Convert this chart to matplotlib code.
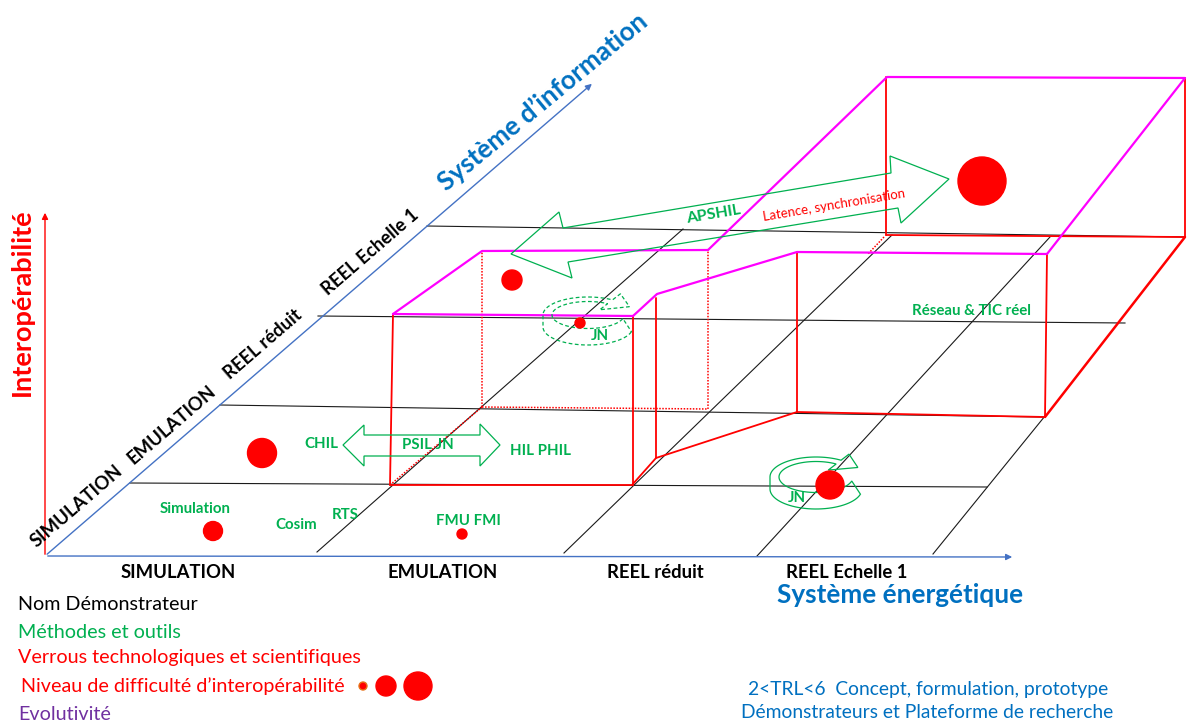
"""
Interoperability diagram: energy system x information system x interoperability.
Drawn in pixel coordinates on a single blank axes.
"""

import matplotlib

matplotlib.use("Agg")
import matplotlib.pyplot as plt
import numpy as np
from matplotlib.patches import Circle, Polygon

plt.rcParams["font.family"] = ["Lato", "DejaVu Sans"]

GREEN = "#00B050"
RED = "#FF0000"
MAGENTA = "#FF00FF"
BLUE = "#0070C0"
AXIS_BLUE = "#4472C4"
PURPLE = "#7030A0"

# demonstrator levels (both axes)
LEVELS = ["SIMULATION", "EMULATION", "REEL réduit", "REEL Echelle 1"]
LEVEL_X_POS = [178, 443, 655, 847]          # under the energy axis
LEVEL_DIAG_POS = [(77, 506), (172, 425), (263, 344), (370, 252)]

# floor grid: information-system levels (near-horizontal) and energy levels (diagonal)
INFO_LINES = [(130, 483, 987, 487), (220, 405, 1043, 417),
              (318, 316, 1125, 323), (427, 226, 1185, 237)]
ENERGY_LINES = [(317, 552, 683, 229), (564, 553, 892, 235),
                (757, 556, 1050, 237), (933, 554, 1045, 416)]

# interoperability volumes
RED_SOLID = [
    [(390, 485), (393, 314)], [(633, 485), (633, 316)], [(390, 485), (633, 485)],
    [(656, 298), (656, 458)], [(632, 485), (656, 458), (797, 412)],
    [(797, 252), (797, 412)], [(797, 412), (1045, 417)], [(1047, 254), (1045, 417)],
    [(886, 77), (886, 235)], [(886, 235), (1185, 237)], [(1185, 78), (1185, 237)],
]
RED_EDGE = [(1045, 417), (1185, 237)]
RED_DOTTED = [
    [(482, 407), (482, 251)], [(482, 407), (708, 409)], [(708, 409), (708, 250)],
    [(390, 485), (482, 407)], [(884, 237), (868, 254)],
]
MAGENTA_LINES = [
    [(393, 314), (633, 316)], [(393, 314), (482, 251), (708, 250)],
    [(633, 316), (657, 294), (797, 252), (1047, 254)],
    [(708, 250), (887, 77), (1185, 78), (1047, 254)],
]

# difficulty level bubbles
DOT_X = [982, 512, 580, 262, 213, 462, 830]
DOT_Y = [181, 280, 323, 453, 531, 534, 485]
DOT_R = [24, 10, 5, 14.5, 9.5, 5, 14]

# methods and tools
METHODS = ["Simulation", "Cosim", "RTS", "FMU FMI", "CHIL", "PSIL JN",
           "HIL PHIL", "Réseau & TIC réel", "JN", "JN"]
METHOD_X = [195, 296, 345, 468, 321, 428, 541, 972, 600, 797]
METHOD_Y = [509, 525, 515, 521, 444, 445, 451, 311, 336, 498]

CHIL_ARROW = [(343, 445), (364, 425), (364, 435), (480, 435), (480, 424), (500, 445),
              (480, 466), (480, 456), (364, 456), (364, 466)]
APSHIL_ARROW = [(511, 254), (559, 212), (563, 228), (891, 173), (890, 156), (949, 179),
                (901, 223), (898, 208), (568, 262), (572, 278)]

LEGEND = ["Nom Démonstrateur", "Méthodes et outils",
          "Verrous technologiques et scientifiques",
          "Niveau de difficulté d\u2019interopérabilité", "Evolutivité"]
LEGEND_COLORS = ["black", GREEN, RED, RED, PURPLE]
LEGEND_X = [18, 18, 18, 21, 18]
LEGEND_Y = [605, 633, 658, 686, 714]
LEGEND_DOT_X = [363, 386, 418]
LEGEND_DOT_R = [4, 10, 14]


def ribbon_arrow(ax, cx, cy, ls="-", rx=46, ry=20, w=9, h=12, t_end=15, t_head=303):
    """Curved ribbon arrow turning around (cx, cy), like the office shape."""
    t_lo = np.radians(np.linspace(t_end, 180, 40))
    t_up = np.radians(np.linspace(180, t_head, 40))
    ri, rj = rx - w, ry - w / 2
    xs = list(cx + rx * np.cos(t_lo))
    ys = list(cy + h + ry * np.sin(t_lo))
    xs += list(cx + rx * np.cos(t_up))
    ys += list(cy + ry * np.sin(t_up))
    th = np.radians(t_head)
    outer = np.array([cx + rx * np.cos(th), cy + ry * np.sin(th)])
    inner = np.array([cx + ri * np.cos(th), cy + rj * np.sin(th)])
    mid = (outer + inner) / 2
    tang = np.array([-(rx + ri) / 2 * np.sin(th), (ry + rj) / 2 * np.cos(th)])
    tang /= np.hypot(*tang)
    nrm = (outer - inner) / np.hypot(*(outer - inner))
    for p in (outer + nrm * 10, mid + tang * 20, inner - nrm * 10):
        xs.append(p[0])
        ys.append(p[1])
    t_in = np.radians(np.linspace(t_head, 180, 40))
    xs += list(cx + ri * np.cos(t_in))
    ys += list(cy + rj * np.sin(t_in))
    t_in2 = np.radians(np.linspace(180, t_end, 40))
    xs += list(cx + ri * np.cos(t_in2))
    ys += list(cy + rj * np.sin(t_in2))
    ax.add_patch(Polygon(np.column_stack([xs, ys]), closed=True, fill=False,
                         edgecolor=GREEN, lw=0.9, ls=ls, zorder=4))


def polyline(ax, pts, **kw):
    arr = np.array(pts)
    ax.plot(arr[:, 0], arr[:, 1], solid_capstyle="round", **kw)


fig = plt.figure(figsize=(11.88, 7.22), dpi=100)
ax = fig.add_axes([0, 0, 1, 1])
ax.set_xlim(0, 1188)
ax.set_ylim(722, 0)
ax.axis("off")

# grid
for x0, y0, x1, y1 in INFO_LINES + ENERGY_LINES:
    ax.plot([x0, x1], [y0, y1], color="#1a1a1a", lw=0.8, zorder=1)

# axes
arrow = dict(arrowstyle="-|>", color=AXIS_BLUE, lw=1.0, mutation_scale=9)
ax.annotate("", xy=(1015, 557), xytext=(45, 556), arrowprops=arrow)
ax.annotate("", xy=(594, 82), xytext=(45, 556), arrowprops=arrow)
ax.annotate("", xy=(45, 210), xytext=(45, 557),
            arrowprops=dict(arrowstyle="-|>", color=RED, lw=1.0, mutation_scale=9))

# volumes
for pts in RED_SOLID:
    polyline(ax, pts, color=RED, lw=1.3, zorder=2)
polyline(ax, RED_EDGE, color=RED, lw=1.8, zorder=2)
for pts in RED_DOTTED:
    polyline(ax, pts, color=RED, lw=1.1, ls=(0, (1, 1)), zorder=2)
for pts in MAGENTA_LINES:
    polyline(ax, pts, color=MAGENTA, lw=1.6, zorder=3)

# green block arrows
for pts in (CHIL_ARROW, APSHIL_ARROW):
    ax.add_patch(Polygon(pts, closed=True, fill=False, edgecolor=GREEN, lw=0.9, zorder=4))
ribbon_arrow(ax, 588, 315, ls=(0, (3, 2)), rx=45, ry=18)
ribbon_arrow(ax, 816, 477)

for x, y, r in zip(DOT_X, DOT_Y, DOT_R):
    ax.add_patch(Circle((x, y), r, color=RED, zorder=5))

# labels
for name, x in zip(LEVELS, LEVEL_X_POS):
    ax.text(x, 572, name, ha="center", va="center", fontsize=13.3, fontweight="bold")
for name, (x, y) in zip(LEVELS, LEVEL_DIAG_POS):
    ax.text(x, y, name, ha="center", va="center", rotation=40.8,
            rotation_mode="anchor", fontsize=13.3, fontweight="bold")

ax.text(900, 595, "Système énergétique", ha="center", va="center",
        fontsize=18.8, fontweight="bold", color=BLUE)
ax.text(543, 102, "Système d\u2019information", ha="center", va="center",
        rotation=39.5, rotation_mode="anchor", fontsize=18.8, fontweight="bold", color=BLUE)
ax.text(22, 302, "Interopérabilité", ha="center", va="center", rotation=90,
        fontsize=19.5, fontweight="bold", color=RED)

for name, x, y in zip(METHODS, METHOD_X, METHOD_Y):
    ax.text(x, y, name, ha="center", va="center", fontsize=10.8,
            fontweight="bold", color=GREEN, zorder=6)
ax.text(714, 215, "APSHIL", ha="center", va="center", rotation=9.5,
        rotation_mode="anchor", fontsize=11.5, fontweight="bold", color=GREEN)
ax.text(834, 205, "Latence, synchronisation", ha="center", va="center",
        rotation=9.5, rotation_mode="anchor", fontsize=9.5, color=RED)

# legend
for name, color, x, y in zip(LEGEND, LEGEND_COLORS, LEGEND_X, LEGEND_Y):
    ax.text(x, y, name, ha="left", va="center", fontsize=14.2, color=color)
for x, r in zip(LEGEND_DOT_X, LEGEND_DOT_R):
    ax.add_patch(Circle((x, 686), r, facecolor=RED,
                        edgecolor="#E8731A" if r < 5 else RED, lw=1))

ax.text(928, 690, "2<TRL<6  Concept, formulation, prototype", ha="center",
        va="center", fontsize=13.9, color=BLUE)
ax.text(927, 713, "Démonstrateurs et Plateforme de recherche", ha="center",
        va="center", fontsize=13.9, color=BLUE)

fig.savefig("out.png", dpi=100)
